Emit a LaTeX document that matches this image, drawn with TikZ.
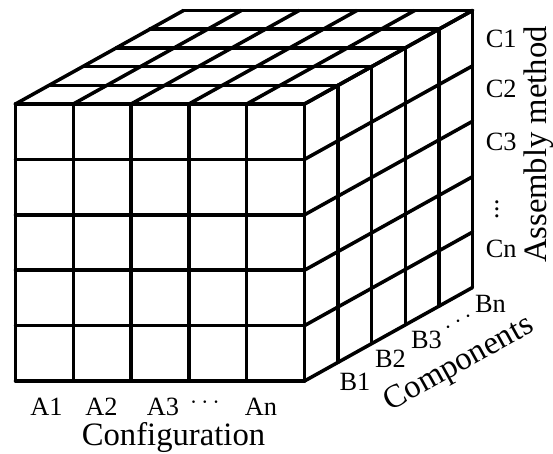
\documentclass[tikz,border=0pt]{standalone}
\usepackage{fontspec}
\setmainfont{Liberation Serif}
\usepackage{tikz}

\begin{document}
\begin{tikzpicture}[
  line width=2pt, line join=round, line cap=round,
  lbl/.style={font=\fontsize{15}{17}\selectfont, anchor=base, inner sep=0pt},
  dotlbl/.style={lbl, anchor=center},
  ttl/.style={font=\fontsize{18.6}{21}\selectfont, inner sep=0pt}
]
\useasboundingbox (-0.31,-1.44) rectangle (10.75,7.62);

% front face
\foreach \i in {0,...,5} {
  \draw (1.156*\i,0) -- (1.156*\i,5.54);
  \draw (0,1.108*\i) -- (5.78,1.108*\i);
}
% top face
\foreach \i in {0,...,5} {
  \draw (1.156*\i,5.54) -- ++(3.36,1.87);
  \draw (0.672*\i,5.54+0.374*\i) -- ++(5.78,0);
}
% right face
\foreach \i in {0,...,5} {
  \draw (5.78+0.672*\i,0.374*\i) -- ++(0,5.54);
  \draw (5.78,1.108*\i) -- ++(3.36,1.87);
}

\node[lbl] (a1) at (0.62,-0.68) {A1};
\node[lbl] (a2) at (1.72,-0.68) {A2};
\node[lbl] (a3) at (2.95,-0.68) {A3};
\node[dotlbl] (adots) at (3.79,-0.44) {$\cdots$};
\node[lbl] (an) at (4.91,-0.68) {An};
\node[ttl, anchor=base] (config) at (3.16,-1.28) {Configuration};

\node[lbl] (b1) at (6.79,-0.18) {B1};
\node[lbl] (b2) at (7.50,0.28) {B2};
\node[lbl] (b3) at (8.22,0.66) {B3};
\node[dotlbl, rotate=29] (bdots) at (8.87,1.18) {$\cdots$};
\node[lbl] (bn) at (9.50,1.38) {Bn};
\node[ttl, rotate=29.1] (comp) at (8.88,0.33) {Components};

\node[lbl, anchor=base west] (c1) at (9.37,6.66) {C1};
\node[lbl, anchor=base west] (c2) at (9.37,5.66) {C2};
\node[lbl, anchor=base west] (c3) at (9.37,4.62) {C3};
\node[dotlbl] (cdots) at (9.63,3.54) {$\vdots$};
\node[lbl, anchor=base west] (cn) at (9.37,2.48) {Cn};
\node[ttl, rotate=90] (assy) at (10.47,4.73) {Assembly method};
\end{tikzpicture}
\end{document}
